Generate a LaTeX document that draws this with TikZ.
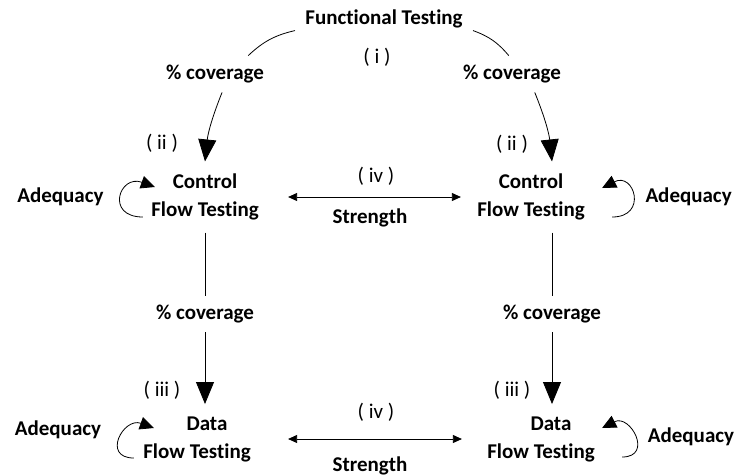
\documentclass[tikz,border=0pt]{standalone}
\usepackage{fontspec}
\setmainfont{Carlito}[Ligatures=NoCommon]
\usetikzlibrary{arrows.meta, positioning, calc}

\begin{document}
\begin{tikzpicture}[x=1pt, y=1pt, line width=0.8pt,
    every node/.style={font=\fontsize{21}{28}\selectfont, inner sep=1pt},
    txt/.style={font=\fontsize{21}{28}\selectfont\bfseries},
    tst/.style={txt, align=center, inner xsep=4pt, inner ysep=12pt},
    lbl/.style={txt, inner sep=9pt},
    big/.style={-{Triangle[length=22pt, width=18pt]}},
    both/.style={{Triangle[length=9pt, width=8pt]}-{Triangle[length=9pt, width=8pt]}},
    loopar/.style={-{Triangle[length=14pt, width=13pt]}}]
    \useasboundingbox (0,0) rectangle (737,-475);

    % Nodes
    \node[txt, inner xsep=10pt, inner ysep=2pt] (ft) at (384,-19) {Functional Testing};
    \node[tst] (cftL) at (205,-197) {Control\\Flow Testing};
    \node[tst] (cftR) at (531,-197) {Control\\Flow Testing};
    \node[tst] (dftL) at (197,-439) {\hspace*{20pt}Data\\Flow Testing};
    \node[tst] (dftR) at (541,-439) {\hspace*{20pt}Data\\Flow Testing};

    \node[lbl] (covTL) at (215,-74) {\% coverage};
    \node[lbl] (covTR) at (512,-74) {\% coverage};
    \node[lbl] (covML) at (205,-314) {\% coverage};
    \node[lbl] (covMR) at (552,-314) {\% coverage};

    % Edges
    \draw (ft.south west) to[bend right=15] (covTL.29);
    \draw[big] (covTL.-69) to[bend right=8] (cftL.north);
    \draw (ft.south east) to[bend left=15] (covTR.100);
    \draw[big] (covTR.-39) to[bend left=8] (covMR |- cftR.north);

    \draw (cftL) -- (covML);
    \draw[big] (covML) -- (covML |- dftL.north);
    \draw (cftR.south -| covMR) -- (covMR);
    \draw[big] (covMR) -- (covMR |- dftR.north);

    \draw[both, shorten <=25pt, shorten >=12pt] (cftL) --
        node[above=10.5pt, xshift=8pt] (ivT) {( iv )}
        node[txt, below=10pt, xshift=2pt] (strT) {Strength} (cftR);
    \draw[both, shorten <=33pt, shorten >=21pt] (dftL) --
        node[above=16pt, xshift=7pt] (ivB) {( iv )}
        node[txt, below=16pt, xshift=1pt] (strB) {Strength} (dftR);

    % Loops
    \draw[loopar] ([shift={(-4,-20)}]cftL.west) to[out=180, in=160, looseness=3] ([shift={(8,10)}]cftL.west);
    \draw[loopar] ([shift={(23,-20)}]cftR.east) to[out=0, in=27, looseness=3] ([shift={(13,9)}]cftR.east);
    \draw[loopar] ([shift={(-5,-19)}]dftL.west) to[out=180, in=160, looseness=2.3] ([shift={(15,11)}]dftL.west);
    \draw[loopar] ([shift={(23,-18)}]dftR.east) to[out=0, in=27, looseness=2.3] ([shift={(3,11)}]dftR.east);

    % Labels
    \node[txt, left=42pt of cftL] (adqTL) {Adequacy};
    \node[txt, right=55pt of cftR] (adqTR) {Adequacy};
    \node[txt] (adqBL) at (58,-430) {Adequacy};
    \node[txt] (adqBR) at (691,-437) {Adequacy};
    \node (lblI) at (377,-57) {( i )};
    \node (lblIIL) at (162,-143) {( ii )};
    \node (lblIIR) at (512,-144) {( ii )};
    \node (lblIIIL) at (162,-390) {( iii )};
    \node (lblIIIR) at (512,-390) {( iii )};
\end{tikzpicture}
\end{document}
